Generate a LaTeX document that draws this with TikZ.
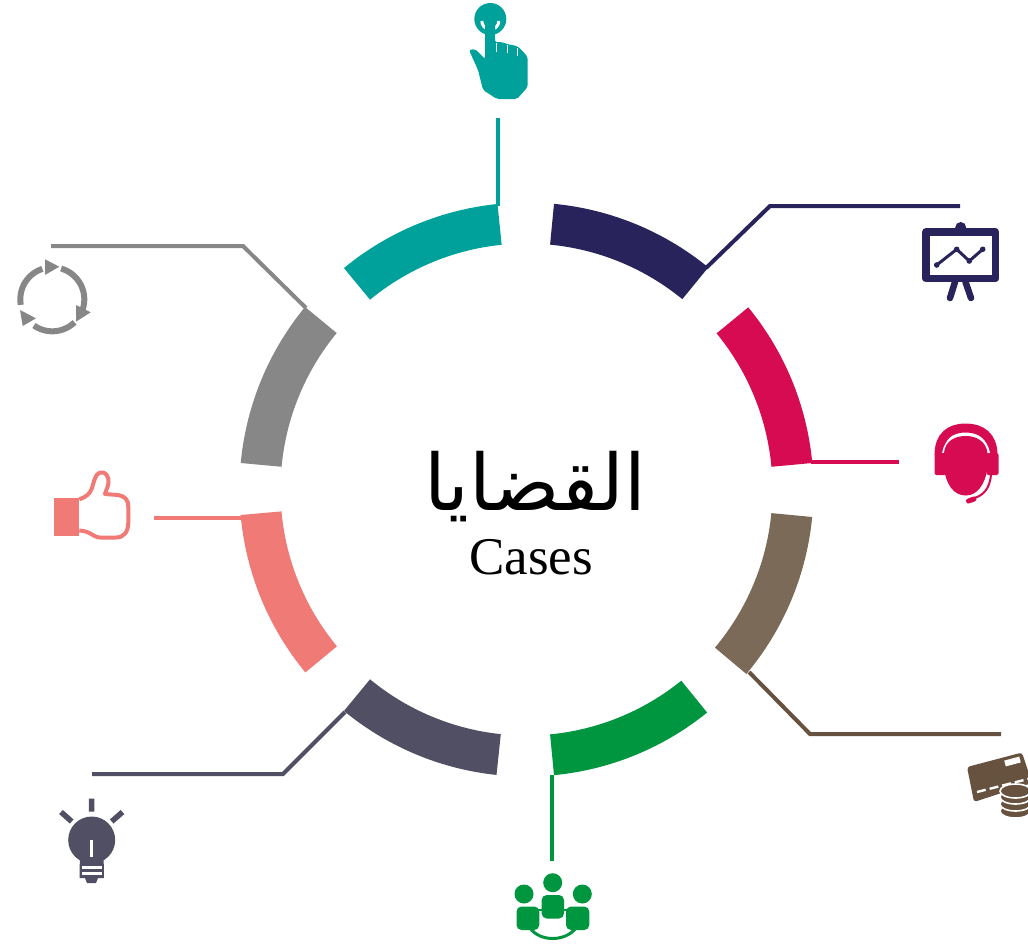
\documentclass[tikz,border=0pt]{standalone}
\usepackage{fontspec}
\setmainfont{Liberation Serif}
\newfontfamily\arabicfont[Script=Arabic]{DejaVu Sans}
\TeXXeTstate=1
\definecolor{cteal}{HTML}{00A19A}
\definecolor{cnavy}{HTML}{29235C}
\definecolor{cred}{HTML}{D60B52}
\definecolor{cbrown}{HTML}{7B6A58}
\definecolor{cbrownd}{HTML}{67513F}
\definecolor{cgreen}{HTML}{009640}
\definecolor{cdark}{HTML}{514F63}
\definecolor{csalmon}{HTML}{F07A75}
\definecolor{cgrey}{HTML}{878787}
\newcommand{\ringseg}[3]{%
  \fill[#1] plot[domain=#2:#3,samples=40,smooth] ({526.5+287*cos(\x)},{489.5-287*sin(\x)})
   -- plot[domain=#3:#2,samples=40,smooth] ({526.5+246*cos(\x)},{489.5-246*sin(\x)}) -- cycle;}
\newcommand{\recarc}[2]{%
  \draw[cgrey,line width=6pt] plot[domain=#1:#2,samples=20,smooth] ({52.3+32*cos(\x)},{299.3-32*sin(\x)});}
\tikzset{
  leader/.style={line width=4pt,line join=miter},
  wstroke/.style={draw=white,line cap=round}
}
\begin{document}
\begin{tikzpicture}[x=1pt,y=-1pt]
\useasboundingbox (0,0) rectangle (1028,943);
\clip (0,0) rectangle (1028,943);
% ring segments
\ringseg{cteal}{95.8}{129.5}
\ringseg{cnavy}{50.7}{84.5}
\ringseg{cred}{5.3}{39.4}
\ringseg{cbrown}{-40}{-5.5}
\ringseg{cgreen}{-84.5}{-51}
\ringseg{cdark}{-129.5}{-96}
\ringseg{csalmon}{-174.9}{-140.4}
\ringseg{cgrey}{140.5}{174.7}
% anchor coordinates
\coordinate (tealA) at (498,118); \coordinate (tealB) at (498,206);
\coordinate (navyA) at (960,206); \coordinate (navyK) at (770,206); \coordinate (navyB) at (706,268);
\coordinate (redA) at (899,462); \coordinate (redB) at (811,462);
\coordinate (brownA) at (1001,734); \coordinate (brownK) at (810,734); \coordinate (brownB) at (749,672);
\coordinate (greenA) at (552,861); \coordinate (greenB) at (552,775);
\coordinate (darkA) at (92,774); \coordinate (darkK) at (283,774); \coordinate (darkB) at (345,712);
\coordinate (salmA) at (154,518); \coordinate (salmB) at (244,518);
\coordinate (greyA) at (51,246); \coordinate (greyK) at (243,246); \coordinate (greyB) at (306,308);
% leaders
\draw[leader,cteal] (tealA) -- (tealB);
\draw[leader,cnavy] (navyA) -- (navyK) -- (navyB);
\draw[leader,cred] (redA) -- (redB);
\draw[leader,cbrownd] (brownA) -- (brownK) -- (brownB);
\draw[leader,cgreen] (greenA) -- (greenB);
\draw[leader,cdark] (darkA) -- (darkK) -- (darkB);
\draw[leader,csalmon] (salmA) -- (salmB);
\draw[leader,cgrey] (greyA) -- (greyK) -- (greyB);
% centre text
\node[inner sep=0pt] (title) at (535,487) {\fontsize{78}{84}\selectfont\arabicfont\beginR القضايا\endR};
\node[inner sep=0pt] (cases) at (531,557) {\fontsize{53}{58}\selectfont Cases};
% hand icon
\fill[cteal] (490.3,19) circle (16);
\draw[white,line width=3pt] (481.8,21) arc[start angle=180,end angle=0,radius=8.5];
\fill[cteal,rounded corners=2pt] (469,50) -- (475,49) -- (485,59) -- (485,22) arc[start angle=180,end angle=0,radius=5] -- (495,42) -- (501.7,42) -- (507,44) -- (511.7,45) -- (517,46) -- (521.7,50) -- (527.7,57) -- (527.7,87) -- (517,99) -- (497,99) -- (483,90) -- (478,70) -- cycle;
\draw[white,line width=1.2pt] (496.7,43) -- (496.7,52) (507.3,45) -- (507.3,53) (517.3,48) -- (517.3,56);
% presentation icon
\fill[cnavy] (960.7,227.5) circle (5.5);
\draw[cnavy,line width=7.5pt,line join=round] (926,232) rectangle (995.5,278.5);
\draw[cnavy,line width=6.5pt,line cap=round] (955,282) -- (950,298) (965.5,282) -- (971,298);
\draw[cnavy,line width=3pt] (936.7,265) -- (956.7,249.3) -- (969.3,261) -- (982.7,249.3);
\foreach \p in {(936.7,265),(956.7,249.3),(969.3,261),(982.7,249.3)} \fill[cnavy] \p circle (2.8);
% headset icon
\draw[cred,line width=9pt] (939,455) .. controls (939,436) and (950,428) .. (965.7,428) .. controls (981,428) and (993,436) .. (993,455);
\draw[white,line width=1.8pt] (943,453) .. controls (945,440) and (955,434.5) .. (965.7,434.5) .. controls (977,434.5) and (987,440) .. (989,453);
\fill[cred] (944,453) .. controls (945,441) and (955,436) .. (965.7,436) .. controls (976,436) and (986,441) .. (987.5,453) -- (987.5,468) .. controls (985,485) and (977,495.5) .. (965.7,495.5) .. controls (954,495.5) and (946,485) .. (944,468) -- cycle;
\fill[cred,rounded corners=2pt] (934.5,453) rectangle (946,475);
\fill[cred,rounded corners=2pt] (986.5,453) rectangle (998.5,475);
\draw[cred,line width=2pt] (991,474) .. controls (990,490) and (982,497) .. (970,499);
\draw[cred,line width=5pt,line cap=round] (968.5,501) -- (974,499);
% card and coins icon
\fill[cbrownd,rounded corners=3pt] (967,767) -- (1022,752.5) -- (1032,783) -- (974,802) -- cycle;
\draw[white,line width=2.4pt,dash pattern=on 9pt off 4pt] (977,792) -- (1028,779);
\draw[white,line width=6pt] (1005,763.5) -- (1020,759.5);
\foreach \yy in {811,804,797,791}{\filldraw[fill=cbrownd,draw=white,line width=1.6pt] (1015.5,\yy) ellipse (15.5 and 7);}
% team icon
\draw[cgreen,line width=3pt] (530,928) .. controls (540,942) and (565,942) .. (576,928);
\draw[cgreen,line width=2.5pt] (536,910) -- (545,910) (561,910) -- (570,910);
\fill[cgreen] (552.7,882.7) circle (9.5) (524,894) circle (9.5) (582.3,894) circle (9.5);
\fill[cgreen,rounded corners=5pt] (541.7,895) rectangle (564,918.5);
\fill[cgreen,rounded corners=5pt] (516.5,906.5) rectangle (539.3,930);
\fill[cgreen,rounded corners=5pt] (566,906.5) rectangle (589.3,930);
% bulb icon
\draw[cdark,line width=5.5pt] (91.7,798.5) -- (91.7,811.5) (61,812) -- (71.7,821.5) (122.5,812) -- (111.7,821.5);
\fill[cdark] (91.7,840) circle (23.5);
\fill[cdark] (80,850) -- (103.5,850) -- (104,878) -- (98,878) -- (96,883) -- (87,883) -- (85,878) -- (79.5,878) -- cycle;
\draw[white,line width=2.6pt] (91.7,840) -- (91.7,857);
\draw[white,line width=2.4pt] (82,867.5) -- (101.5,867.5) (82,873.5) -- (101.5,873.5);
% thumb icon
\fill[csalmon] (54.3,498.3) rectangle (79.3,536);
\draw[csalmon,line width=4pt,line join=round] (79.3,499.3) .. controls (86,497) and (90,494) .. (92,488) .. controls (94,482) and (95,474) .. (100,472.5) .. controls (106,471) and (109,477) .. (108.5,483) .. controls (108,487) and (106,490) .. (105,494) -- (118,495) .. controls (125,496) and (128.5,500) .. (128.3,507) -- (128.3,523) .. controls (128,532) and (124,537.5) .. (116,537.5) -- (100,537.5) .. controls (92,537) and (91,531) .. (79.3,530.5);
% recycle icon
\recarc{190}{108}
\recarc{74}{-18}
\recarc{-46}{-125}
\fill[cgrey] (45,259.3) -- (59.3,266.7) -- (45,275) -- cycle;
\fill[cgrey] (76,305) -- (90.7,312.3) -- (76,321.7) -- cycle;
\fill[cgrey] (20,310) -- (36,318.3) -- (22.7,326) -- cycle;
\end{tikzpicture}
\end{document}
